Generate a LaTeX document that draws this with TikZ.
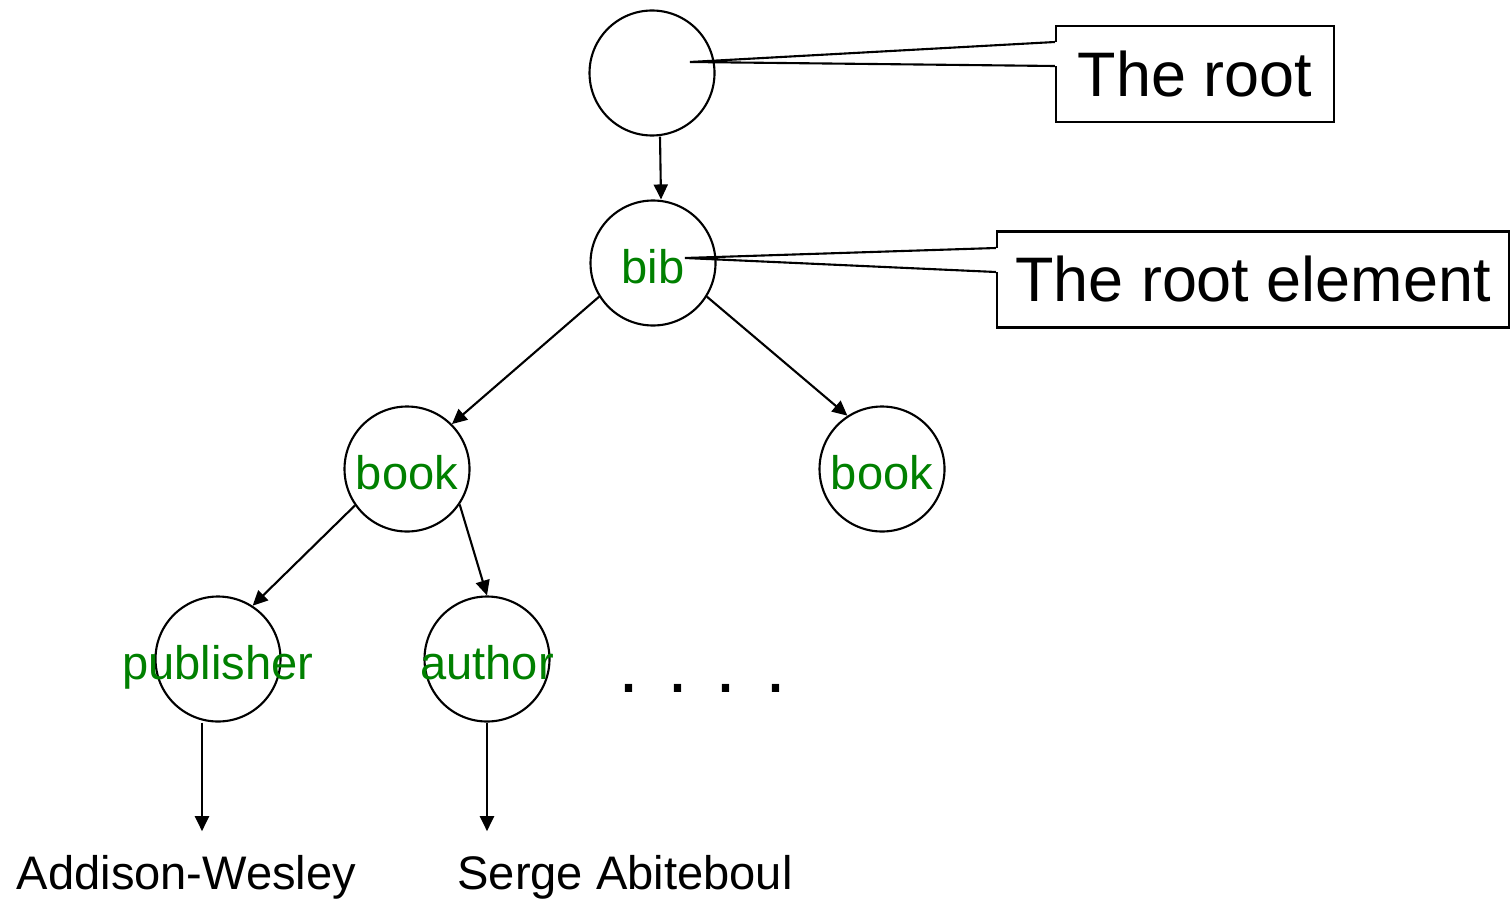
\documentclass[tikz,border=0pt]{standalone}
\usepackage{fontspec}
\setmainfont{Liberation Sans}
\usepackage{pgf,tikz}
\usetikzlibrary{arrows.meta}
\definecolor{tagverde}{RGB}{0,128,0}
\tikzstyle{element} = [draw, circle, line width=0.6pt, minimum size=1.25cm, inner sep=0pt]
\tikzstyle{tagname} = [text=tagverde, font=\fontsize{13.4}{16}\selectfont, text height=0.4cm, text depth=0pt, inner sep=0pt]
\tikzstyle{note} = [draw, rectangle, line width=0.6pt, font=\fontsize{17.9}{21}\selectfont, minimum height=0.96cm]
\tikzstyle{pointer} = [line width=0.6pt, line join=miter]
\tikzstyle{value} = [font=\fontsize{13.4}{16}\selectfont, anchor=base, inner ysep=0.23cm]
\tikzstyle{link} = [line width=0.6pt, -{Triangle[length=1.5mm,width=1.4mm]}]

\begin{document}
\begin{tikzpicture}
	\useasboundingbox (0,0) rectangle (15.11,9);
	\node[element] (root) at (6.52,8.27) {};
	\node[element, label={[tagname]center:bib}] (bib) at (6.53,6.37) {};
	\node[element, label={[tagname]center:book}] (bookA) at (4.07,4.31) {};
	\node[element, label={[tagname]center:book}] (bookB) at (8.82,4.31) {};
	\node[element, label={[tagname]center:publisher}] (publisher) at (2.18,2.41) {};
	\node[element, label={[tagname]center:author}] (author) at (4.87,2.41) {};
	\node[anchor=base, font=\fontsize{21.5}{26}\selectfont] (dots) at (7.02,2.08) {. . . .};
	\node[value] (addison) at (1.865,0.11) {Addison-Wesley};
	\node[value] (serge) at (6.25,0.11) {Serge Abiteboul};
	\node[note, minimum width=2.78cm] (rootnote) at (11.95,8.26) {The root};
	\node[note, minimum width=5.12cm] (bibnote) at (12.53,6.205) {The root element};
	\coordinate (roottip) at ([shift={(0.38,0.11)}]root.center);
	\coordinate (bibtip) at ([shift={(0.32,0.05)}]bib.center);
	\draw[white, line width=1pt] ([yshift=0.32cm]rootnote.west) -- ([yshift=0.08cm]rootnote.west);
	\draw[pointer] ([yshift=0.32cm]rootnote.west) -- (roottip) -- ([yshift=0.08cm]rootnote.west);
	\draw[white, line width=1pt] ([yshift=0.315cm]bibnote.west) -- ([yshift=0.075cm]bibnote.west);
	\draw[pointer] ([yshift=0.315cm]bibnote.west) -- (bibtip) -- ([yshift=0.075cm]bibnote.west);
	\draw[link] ([xshift=0.8mm]root.south) -- ([xshift=0.8mm]bib.north);
	\draw[link] (bib.212) -- (bookA.45);
	\draw[link] (bib.328) -- (bookB.123);
	\draw[link] (bookA.215) -- (publisher.57);
	\draw[link] (bookA.326) -- (author.north);
	\draw[link] ([xshift=-1.6mm]publisher.south) -- ([xshift=-1.6mm]publisher.south |- addison.north);
	\draw[link] (author.south) -- (author.south |- serge.north);
\end{tikzpicture}
\end{document}
